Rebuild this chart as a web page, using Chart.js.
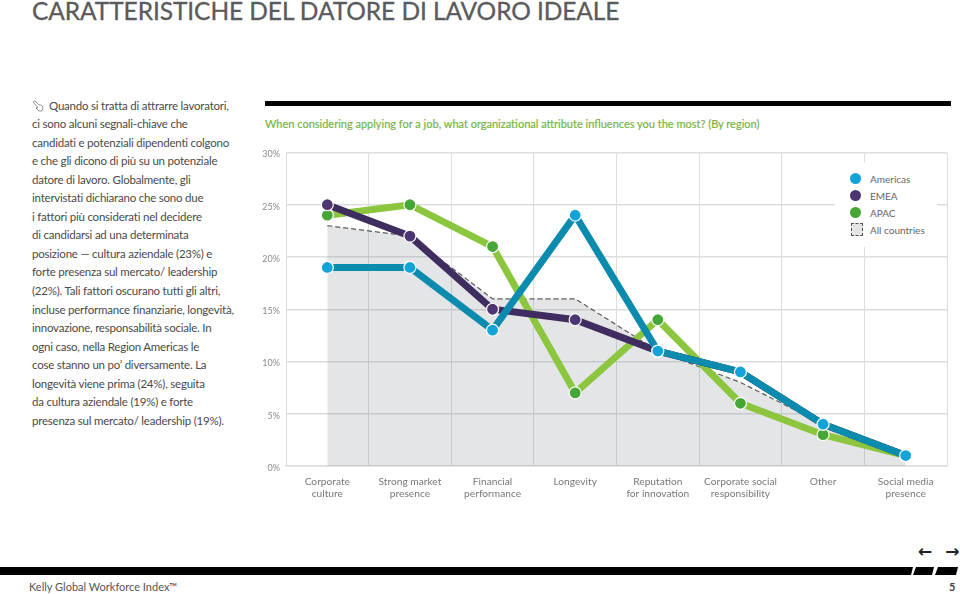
<!DOCTYPE html>
<html lang="it">
<head>
<meta charset="utf-8">
<title>Caratteristiche del datore di lavoro ideale</title>
<script src="https://cdn.jsdelivr.net/npm/chart.js@4"></script>
<style>
  html, body { margin: 0; padding: 0; background: #fff; }
  body { width: 960px; height: 594px; position: relative; overflow: hidden; font-family: Lato, sans-serif; color: #555; }
  .abs { position: absolute; white-space: nowrap; }
  #titolo { left: 32px; top: -4px; font-size: 24.5px; line-height: 30px; letter-spacing: -0.08px; color: #5a5b5d; -webkit-text-stroke: 0.3px #5a5b5d; }
  #testo { left: 32px; top: 96.5px; font-size: 11.5px; line-height: 18.55px; letter-spacing: -0.22px; color: #4a4a4a; }
  #testo svg { display: inline-block; width: 12px; height: 12px; margin-right: 5px; vertical-align: -2px; }
  #barra { left: 265px; top: 101px; width: 686px; height: 5px; background: #000; }
  #sottotitolo { left: 265px; top: 116px; font-size: 11px; line-height: 16px; color: #78b545; -webkit-text-stroke: 0.2px #78b545; }
  #wrap { left: 250px; top: 140px; width: 710px; height: 370px; }
  #legenda { left: 835px; top: 162px; width: 102px; height: 85px; background: #fff; font-size: 10px; color: #666; }
  #legenda div { position: absolute; left: 35px; line-height: 12px; }
  #legenda i { position: absolute; left: -20px; top: 0; width: 11px; height: 11px; border-radius: 50%; }
  #legenda i.area { left: -19px; top: -1px; width: 10px; height: 11px; border-radius: 0; border: 1px dashed #555; background: #e4e5e7; }
  #piede { left: 0; top: 567px; width: 960px; height: 8px; }
  #piede span { position: absolute; left: 0; top: 0; width: 960px; height: 8px; background: #000; }
  #frecce { left: 918px; top: 541px; font-family: "DejaVu Sans"; font-weight: bold; font-size: 17px; line-height: 20px; color: #222; word-spacing: 7px; }
  #fonte { left: 29px; top: 580px; font-size: 11px; line-height: 14px; color: #555; }
  #pagina { left: 949px; top: 580px; font-size: 11px; line-height: 14px; font-weight: bold; color: #444; }
</style>
</head>
<body>
<div class="abs" id="titolo">CARATTERISTICHE DEL DATORE DI LAVORO IDEALE</div>
<div class="abs" id="testo"><svg viewBox="0 0 12 12"><path d="M1 2 L3 1 L7 5 L9 5 L11 7 L10 11 L7 11 L4 8 L5 7 L6 7.5 Z" fill="none" stroke="#8a8a8a" stroke-width="0.9"/></svg>Quando si tratta di attrarre lavoratori,<br>ci sono alcuni segnali-chiave che<br>candidati e potenziali dipendenti colgono<br>e che gli dicono di più su un potenziale<br>datore di lavoro. Globalmente, gli<br>intervistati dichiarano che sono due<br>i fattori più considerati nel decidere<br>di candidarsi ad una determinata<br>posizione — cultura aziendale (23%) e<br>forte presenza sul mercato/ leadership<br>(22%). Tali fattori oscurano tutti gli altri,<br>incluse performance finanziarie, longevità,<br>innovazione, responsabilità sociale. In<br>ogni caso, nella Region Americas le<br>cose stanno un po’ diversamente. La<br>longevità viene prima (24%), seguita<br>da cultura aziendale (19%) e forte<br>presenza sul mercato/ leadership (19%).</div>
<div class="abs" id="barra"></div>
<div class="abs" id="sottotitolo">When considering applying for a job, what organizational attribute influences you the most? (By region)</div>
<div class="abs" id="wrap"><canvas id="grafico" width="710" height="370"></canvas></div>
<div class="abs" id="legenda"></div>
<div class="abs" id="frecce">&#8592; &#8594;</div>
<div class="abs" id="piede">
  <span style="clip-path:polygon(0 0,913px 0,911px 8px,0 8px)"></span>
  <span style="clip-path:polygon(916px 0,934px 0,932px 8px,913px 8px)"></span>
  <span style="clip-path:polygon(938px 0,958px 0,956px 8px,935px 8px)"></span>
</div>
<div class="abs" id="fonte">Kelly Global Workforce Index™</div>
<div class="abs" id="pagina">5</div>

<script>
var categorie = [
  ['Corporate', 'culture'],
  ['Strong market', 'presence'],
  ['Financial', 'performance'],
  'Longevity',
  ['Reputation', 'for innovation'],
  ['Corporate social', 'responsibility'],
  'Other',
  ['Social media', 'presence']
];
var americas = [19, 19, 13, 24, 11, 9, 4, 1];
var emea = [25, 22, 15, 14, 11, 9, 4, 1];
var apac = [24, 25, 21, 7, 14, 6, 3, 1];
var allCountries = [23, 22, 16, 16, 11, 8, 4, 1];
var tickY = [0, 5, 10, 15, 20, 25, 30];

var grigioAsse = '#77787b';
var griglia = '#dcddde';

function serie(nome, valori, linea, punto) {
  return {
    label: nome,
    data: valori,
    borderColor: linea,
    backgroundColor: punto,
    borderWidth: 7,
    pointRadius: 6,
    pointBorderWidth: 1.2,
    pointBorderColor: '#fff',
    pointBackgroundColor: punto,
    tension: 0,
    fill: false
  };
}

var ctx = document.getElementById('grafico');
var grafico = new Chart(ctx, {
  type: 'line',
  data: {
    labels: categorie,
    datasets: [
      serie('Americas', americas, '#0b8bad', '#14a3d6'),
      serie('EMEA', emea, '#3e2d5e', '#4d3573'),
      serie('APAC', apac, '#8cc63f', '#46a636'),
      {
        label: 'All countries',
        data: allCountries,
        borderColor: '#5c5c5c',
        borderWidth: 1.2,
        borderDash: [5, 3],
        backgroundColor: 'rgba(120, 125, 135, 0.2)',
        pointRadius: 0,
        tension: 0,
        fill: 'origin'
      }
    ]
  },
  options: {
    responsive: false,
    animation: false,
    devicePixelRatio: 1,
    layout: { padding: { top: 12.5, right: 13, bottom: 0, left: 0 } },
    plugins: {
      legend: { display: false },
      tooltip: { enabled: false }
    },
    scales: {
      x: {
        type: 'category',
        offset: true,
        afterFit: function (s) { s.height = 44; },
        grid: { offset: true, color: griglia, lineWidth: 1, drawTicks: false },
        border: { color: griglia, width: 1.5 },
        ticks: {
          color: grigioAsse,
          padding: 10,
          maxRotation: 0,
          autoSkip: false,
          font: { family: 'Lato', size: 10.2, lineHeight: 1.15 }
        }
      },
      y: {
        min: 0,
        max: 30,
        afterFit: function (s) { s.width = 36; },
        afterBuildTicks: function (s) {
          s.ticks = tickY.map(function (v) { return { value: v }; });
        },
        grid: { color: griglia, lineWidth: 1.5, drawTicks: false },
        border: { color: griglia, width: 1 },
        ticks: {
          color: '#8a8b8e',
          padding: 6,
          labelOffset: 2,
          font: { family: 'Lato', size: 9 },
          callback: function (v) { return v + '%'; }
        }
      }
    }
  }
});

// legenda html, sopra la griglia con fondo bianco
var legenda = document.getElementById('legenda');
var topLegenda = [11, 28, 45, 62];
grafico.data.datasets.forEach(function (ds, i) {
  var riga = document.createElement('div');
  riga.style.top = topLegenda[i] + 'px';
  var segno = document.createElement('i');
  if (ds.fill === 'origin') {
    segno.className = 'area';
  } else {
    segno.style.background = ds.backgroundColor;
  }
  riga.appendChild(segno);
  riga.appendChild(document.createTextNode(ds.label));
  legenda.appendChild(riga);
});
</script>
</body>
</html>
